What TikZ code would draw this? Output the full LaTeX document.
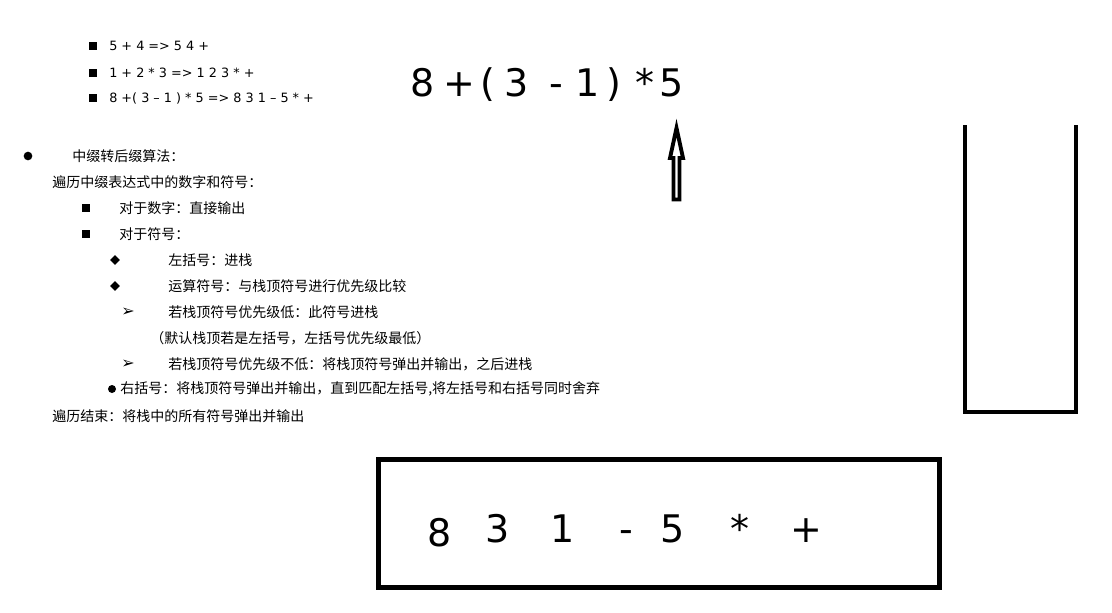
\documentclass[tikz,border=0pt]{standalone}
\usepackage{fontspec}
\setmainfont{DejaVu Sans}
\newfontfamily\cjk{Noto Sans CJK SC}
\newfontfamily\symf{DejaVu Sans}
\usetikzlibrary{shapes.geometric}
\begin{document}
\begin{tikzpicture}[x=0.75pt,y=-0.75pt,
  cn/.style={font=\cjk\fontsize{10.5pt}{12pt}\selectfont, anchor=west, inner sep=0pt},
  li/.style={font=\fontsize{9.6pt}{11pt}\selectfont, anchor=west, inner sep=0pt},
  big/.style={font=\fontsize{28.5pt}{30pt}\selectfont, anchor=base, inner sep=0pt},
  sqb/.style={fill=black, rectangle, minimum size=6pt, inner sep=0pt},
  dmb/.style={fill=black, diamond, minimum width=7.5pt, minimum height=7.5pt, inner sep=0pt},
  ccb/.style={fill=black, circle, minimum size=6.5pt, inner sep=0pt},
  arb/.style={font=\symf\fontsize{12pt}{13pt}\selectfont, inner sep=0pt},
  thick line/.style={line width=3pt},
]
\useasboundingbox[fill=white] (0,0) rectangle (1112,612);

% small list
\node[sqb] (lb1) at (93,46) {};
\node[li] (l1) at (109,46) {5 + 4 => 5 4 +};
\node[sqb] (lb2) at (93,73) {};
\node[li] (l2) at (109,73) {1 + 2 * 3 => 1 2 3 * +};
\node[sqb] (lb3) at (93,98) {};
\node[li] (l3) at (109,98) {8 +( 3 – 1 ) * 5 => 8 3 1 – 5 * +};

% algorithm text
\node[ccb] (c1) at (28,156) {};
\node[cn] (t1) at (72,156) {中缀转后缀算法：};
\node[cn] (t2) at (52,182) {遍历中缀表达式中的数字和符号：};
\node[sqb] (s1) at (86,208) {};
\node[cn] (t3) at (119,208) {对于数字：直接输出};
\node[sqb] (s2) at (86,234) {};
\node[cn] (t4) at (119,234) {对于符号：};
\node[dmb] (d1) at (115,260) {};
\node[cn] (t5) at (168,260) {左括号：进栈};
\node[dmb] (d2) at (115,286) {};
\node[cn] (t6) at (168,286) {运算符号：与栈顶符号进行优先级比较};
\node[arb] (a1) at (128,312) {➢};
\node[cn] (t7) at (168,312) {若栈顶符号优先级低：此符号进栈};
\node[cn] (t8) at (150,338) {（默认栈顶若是左括号，左括号优先级最低）};
\node[arb] (a2) at (128,364) {➢};
\node[cn] (t9) at (168,364) {若栈顶符号优先级不低：将栈顶符号弹出并输出，之后进栈};
\node[ccb, minimum size=6pt] (c2) at (112,389) {};
\node[cn] (t10) at (120,389) {右括号：将栈顶符号弹出并输出，直到匹配左括号,将左括号和右括号同时舍弃};
\node[cn] (t11) at (52,416) {遍历结束：将栈中的所有符号弹出并输出};

% infix expression
\node[big] (e1) at (423,96) {8};
\node[big] (e2) at (459,96) {+};
\node[big] (e3) at (488,96) {(};
\node[big] (e4) at (517,96) {3};
\node[big] (e5) at (556,96) {-};
\node[big] (e6) at (588,96) {1};
\node[big] (e7) at (614,96) {)};
\node[big] (e8) at (645,96) {*};
\node[big] (e9) at (672,96) {5};

% pointer arrow
\draw[line width=2.9pt, line join=miter, miter limit=20]
  (676.5,128) -- (683,158) -- (679.5,158) -- (679.5,199.5) -- (673.5,199.5)
  -- (673.5,158) -- (670,158) -- cycle;

% stack
\draw[thick line] (965,125) -- (965,411.5) -- (1076,411.5) -- (1076,125);

% output box
\draw[line width=3.75pt] (378.5,459.5) rectangle (939.5,587.5);
\node[big] (o1) at (440,546) {8};
\node[big] (o2) at (498,542) {3};
\node[big] (o3) at (563,542) {1};
\node[big] (o4) at (626,542) {-};
\node[big] (o5) at (673,542) {5};
\node[big] (o6) at (740,542) {*};
\node[big] (o7) at (806,542) {+};
\end{tikzpicture}
\end{document}
